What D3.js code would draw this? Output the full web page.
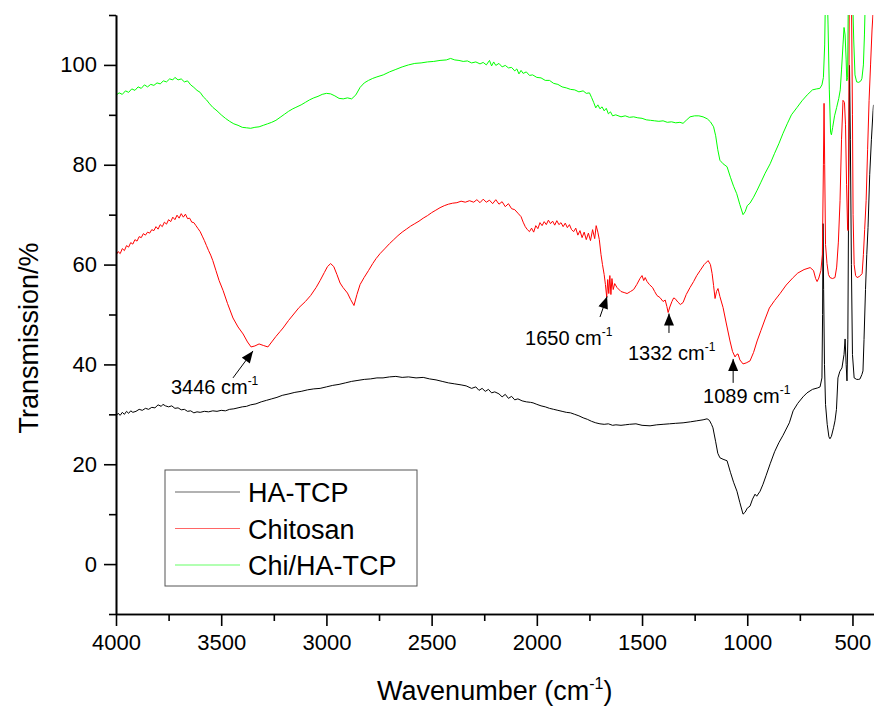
<!DOCTYPE html>
<html>
<head>
<meta charset="utf-8">
<script src="https://cdn.jsdelivr.net/npm/d3@7"></script>
<style>
  body { margin: 0; background: #fff; }
  text { font-family: "Liberation Sans", Arial, sans-serif; fill: #000; }
</style>
</head>
<body>
<div id="chart"></div>
<script>
// FTIR spectra, wavenumber (cm-1) vs transmission (%)
const seriesNames = ["HA-TCP", "Chitosan", "Chi/HA-TCP"];
const seriesColors = ["#000000", "#ff0000", "#00ff00"];

const haTcp = [
  [4000, 29.7], [3990, 30.2], [3980, 29.8], [3970, 30.4], [3960, 30.0], [3950, 30.6], [3940, 30.2], [3930, 30.7],
  [3920, 30.4], [3905, 30.6], [3890, 31.0], [3875, 30.8], [3860, 31.2], [3845, 31.0], [3830, 31.4], [3815, 31.3],
  [3800, 31.9], [3785, 31.6], [3777, 32.0], [3765, 31.7], [3750, 31.5], [3735, 31.7], [3720, 31.2], [3705, 31.3],
  [3690, 30.9], [3675, 31.0], [3660, 30.6], [3645, 30.7], [3630, 30.3], [3615, 30.5], [3600, 30.4], [3580, 30.6],
  [3560, 30.5], [3540, 30.7], [3520, 30.6], [3500, 30.8], [3480, 30.7], [3460, 31.0], [3440, 31.1], [3420, 31.3],
  [3400, 31.5], [3380, 31.6], [3360, 31.9], [3335, 32.1], [3310, 32.5], [3285, 32.8], [3260, 33.1], [3235, 33.4],
  [3210, 33.8], [3178, 34.1], [3150, 34.4], [3120, 34.6], [3090, 34.9], [3060, 35.1], [3030, 35.2], [3000, 35.5],
  [2970, 35.8], [2940, 36.0], [2910, 36.3], [2880, 36.6], [2850, 36.8], [2820, 37.0], [2790, 37.1], [2760, 37.3],
  [2731, 37.3], [2700, 37.5], [2670, 37.6], [2640, 37.4], [2610, 37.5], [2574, 37.3], [2540, 37.4], [2510, 37.1],
  [2479, 36.9], [2450, 36.6], [2420, 36.3], [2390, 36.1], [2360, 35.9], [2336, 35.7], [2310, 35.2], [2290, 35.5],
  [2275, 34.8], [2260, 35.2], [2245, 34.6], [2230, 35.0], [2215, 34.3], [2200, 34.5], [2180, 34.1], [2165, 33.5],
  [2150, 34.0], [2135, 33.2], [2120, 33.6], [2105, 32.9], [2090, 33.1], [2070, 32.7], [2050, 32.5], [2030, 32.4],
  [2018, 32.3], [2000, 32.0], [1980, 31.7], [1960, 31.5], [1940, 31.2], [1920, 31.0], [1900, 30.8], [1880, 30.6],
  [1860, 30.4], [1840, 30.3], [1820, 30.0], [1800, 29.7], [1780, 29.3], [1760, 29.0], [1740, 28.6], [1720, 28.3],
  [1700, 28.1], [1680, 28.0], [1660, 28.1], [1640, 27.8], [1624, 27.9], [1600, 27.8], [1580, 27.9], [1560, 28.0],
  [1529, 28.1], [1500, 27.8], [1462, 27.7], [1430, 27.9], [1400, 28.0], [1370, 28.1], [1340, 28.2], [1305, 28.3],
  [1270, 28.5], [1240, 28.7], [1210, 28.9], [1191, 29.1], [1180, 28.8], [1170, 28.0], [1163, 27.3], [1150, 24.5],
  [1140, 22.2], [1130, 21.3], [1115, 21.0], [1096, 20.7], [1080, 18.4], [1065, 16.4], [1049, 14.6], [1035, 12.3],
  [1020, 10.0], [1010, 10.4], [1000, 11.2], [987, 11.6], [975, 13.0], [963, 14.0], [955, 13.6], [939, 14.6],
  [925, 16.0], [910, 17.8], [891, 20.1], [870, 22.5], [850, 24.3], [830, 25.8], [800, 28.3], [782, 30.7],
  [760, 32.2], [735, 33.5], [716, 34.3], [690, 35.0], [665, 35.3], [654, 35.5], [645, 37.3], [642, 50],
  [640, 68.2], [637, 55], [633, 40], [628, 32], [620, 28], [612, 25.5], [607, 25.1], [600, 25.6],
  [590, 27.3], [583, 28.7], [576, 31], [569, 37.3], [560, 38.6], [550, 39.3], [540, 42], [535, 45.1],
  [530, 40], [526, 36.7], [522, 45], [518, 75], [514, 99.9], [510, 85], [505, 60], [500, 42],
  [492, 37.3], [480, 37.0], [470, 37.0], [464, 37.1], [455, 38.0], [450, 38.7], [445, 45], [438, 55],
  [432, 62], [426, 67.4], [418, 78], [410, 85], [402, 90.9], [400, 92]
];

const chitosan = [
  [4000, 40], [3998, 62.0], [3990, 62.6], [3980, 62.2], [3970, 63.2], [3960, 62.8], [3950, 63.8], [3940, 63.5],
  [3930, 64.4], [3920, 64.1], [3910, 65.0], [3900, 64.7], [3890, 65.6], [3880, 65.4], [3870, 66.2], [3860, 65.9],
  [3850, 66.5], [3840, 66.3], [3830, 67.0], [3820, 66.8], [3810, 67.6], [3800, 67.1], [3790, 68.0], [3780, 67.6],
  [3770, 68.5], [3760, 68.1], [3750, 69.0], [3740, 68.6], [3730, 69.5], [3720, 69.0], [3710, 69.9], [3700, 69.3],
  [3690, 70.2], [3680, 69.5], [3670, 70.1], [3660, 69.2], [3650, 69.3], [3640, 68.5], [3630, 68.4], [3620, 67.8],
  [3610, 67.2], [3600, 66.6], [3590, 65.7], [3580, 64.8], [3570, 63.8], [3560, 62.8], [3550, 61.9], [3540, 60.8],
  [3525, 58.8], [3510, 56.8], [3491, 54.8], [3470, 52.2], [3444, 49.3], [3420, 47.5], [3396, 46.1], [3375, 44.5],
  [3358, 43.5], [3340, 43.7], [3320, 44.1], [3300, 43.8], [3278, 43.5], [3260, 44.5], [3240, 45.6], [3220, 46.6],
  [3206, 47.3], [3180, 48.8], [3155, 50.1], [3130, 51.4], [3100, 52.6], [3075, 53.8], [3049, 55.4], [3030, 56.8],
  [3010, 58.4], [2995, 59.6], [2980, 60.2], [2965, 59.6], [2950, 58.0], [2935, 56.3], [2921, 55.4], [2900, 54.3],
  [2885, 53.0], [2869, 51.8], [2855, 54.0], [2840, 56.0], [2821, 57.4], [2800, 58.8], [2780, 60.2], [2764, 61.2],
  [2745, 62.2], [2720, 63.3], [2700, 64.2], [2680, 65.0], [2660, 65.8], [2640, 66.5], [2620, 67.1], [2600, 67.7],
  [2580, 68.2], [2560, 68.7], [2540, 69.3], [2520, 69.8], [2500, 70.4], [2480, 70.9], [2460, 71.4], [2440, 71.8],
  [2420, 72.1], [2400, 72.3], [2380, 72.4], [2360, 72.7], [2340, 72.5], [2320, 72.8], [2300, 72.5], [2285, 73.0],
  [2270, 72.4], [2255, 73.1], [2240, 72.5], [2225, 72.9], [2210, 72.2], [2195, 73.0], [2180, 72.1], [2165, 72.6],
  [2150, 71.6], [2135, 72.2], [2120, 71.2], [2105, 71.0], [2090, 70.3], [2075, 69.6], [2065, 68.5], [2055, 67.6],
  [2045, 67.0], [2035, 66.6], [2025, 67.3], [2015, 66.5], [2005, 67.8], [1995, 67.2], [1985, 68.4], [1975, 67.8],
  [1965, 68.6], [1955, 68.0], [1945, 68.9], [1935, 68.2], [1925, 68.7], [1915, 67.9], [1905, 68.8], [1895, 68.0],
  [1885, 68.4], [1875, 67.6], [1865, 68.3], [1855, 67.4], [1845, 68.0], [1835, 67.0], [1825, 66.6], [1815, 67.3],
  [1805, 65.9], [1795, 66.8], [1785, 65.4], [1775, 66.5], [1765, 65.0], [1755, 66.3], [1745, 64.8], [1735, 67.0],
  [1725, 65.2], [1718, 67.8], [1710, 66.5], [1703, 65.0], [1695, 62.0], [1688, 60.0], [1680, 58.0], [1674, 56.0],
  [1668, 53.5], [1663, 57.0], [1658, 54.2], [1653, 57.8], [1648, 54.0], [1643, 57.2], [1637, 55.0], [1630, 56.2],
  [1619, 55.4], [1600, 54.6], [1585, 54.4], [1571, 54.2], [1555, 54.6], [1540, 55.0], [1525, 56.0], [1510, 57.2],
  [1500, 57.8], [1492, 56.8], [1485, 57.4], [1476, 56.6], [1465, 56.0], [1450, 55.4], [1440, 54.6], [1429, 53.8],
  [1415, 53.4], [1400, 52.6], [1390, 52.9], [1382, 51.6], [1376, 50.4], [1368, 51.5], [1358, 52.6], [1350, 53.3],
  [1343, 53.2], [1330, 52.5], [1318, 52.0], [1305, 52.4], [1290, 54.0], [1272, 55.4], [1255, 56.6], [1240, 57.8],
  [1224, 58.8], [1205, 60.0], [1186, 60.8], [1175, 60.0], [1167, 58.2], [1160, 55.8], [1153, 53.2], [1146, 54.6],
  [1139, 55.2], [1130, 53.6], [1115, 51.4], [1100, 48.3], [1082, 44.7], [1070, 42.6], [1058, 41.5], [1050, 42.0],
  [1044, 42.1], [1035, 40.9], [1020, 40.1], [1005, 40.3], [987, 40.7], [970, 42.4], [953, 44.7], [935, 46.8],
  [915, 49.1], [895, 51.3], [870, 52.8], [844, 54.2], [815, 55.9], [782, 57.4], [760, 58.3], [730, 59.0],
  [701, 59.4], [685, 58.8], [675, 57.2], [668, 56.6], [660, 57.3], [650, 58.8], [643, 62], [638, 80],
  [635, 92.3], [632, 80], [628, 64], [621, 60.2], [614, 58.0], [607, 57.4], [595, 57.2], [583, 57.4],
  [575, 59.5], [567, 64.5], [559, 72.8], [552, 85], [545, 92.9], [538, 92.5], [533, 88], [528, 76],
  [523, 67], [521, 66.8], [518, 80], [515, 115], [505, 115], [500, 90], [497, 70], [492, 60],
  [485, 57.8], [478, 57.4], [468, 57.6], [460, 57.9], [454, 58.2], [448, 62], [442, 67], [435, 72.8],
  [428, 83], [421, 92.9], [414, 100], [407, 107], [400, 112]
];

const chiHaTcp = [
  [4000, 60], [3998, 94.0], [3985, 94.4], [3970, 94.1], [3955, 94.8], [3940, 94.5], [3925, 95.2], [3910, 94.9],
  [3895, 95.6], [3880, 95.3], [3865, 96.0], [3850, 95.6], [3835, 96.1], [3820, 95.9], [3805, 96.4], [3790, 96.2],
  [3775, 96.8], [3760, 96.6], [3745, 97.2], [3730, 97.0], [3720, 97.5], [3705, 97.0], [3690, 97.2], [3675, 96.6],
  [3660, 96.8], [3645, 96.0], [3630, 95.5], [3615, 94.9], [3600, 94.5], [3585, 93.6], [3570, 93.0], [3555, 92.2],
  [3540, 91.5], [3520, 90.8], [3500, 90.0], [3480, 89.3], [3460, 88.7], [3440, 88.2], [3420, 87.9], [3400, 87.5],
  [3380, 87.4], [3360, 87.3], [3340, 87.5], [3320, 87.6], [3300, 87.9], [3280, 88.2], [3260, 88.5], [3240, 88.9],
  [3220, 89.5], [3200, 90.1], [3180, 90.7], [3160, 91.2], [3145, 91.5], [3120, 92.0], [3100, 92.5], [3080, 93.0],
  [3060, 93.4], [3040, 93.7], [3020, 94.1], [3000, 94.3], [2980, 94.2], [2960, 93.8], [2940, 93.3], [2920, 93.2],
  [2900, 93.4], [2880, 93.2], [2860, 94.0], [2840, 95.5], [2820, 96.4], [2800, 96.9], [2780, 97.3], [2760, 97.6],
  [2730, 98.0], [2700, 98.6], [2670, 99.1], [2640, 99.6], [2610, 100.0], [2580, 100.3], [2550, 100.4], [2520, 100.6],
  [2490, 100.7], [2460, 100.9], [2430, 101.0], [2410, 101.3], [2390, 101.0], [2370, 100.9], [2350, 100.7], [2330, 100.8],
  [2310, 100.4], [2290, 100.6], [2270, 100.2], [2255, 100.5], [2240, 100.0], [2225, 100.9], [2215, 99.8], [2205, 100.6],
  [2195, 99.9], [2180, 100.3], [2165, 99.6], [2150, 99.9], [2135, 99.4], [2120, 99.5], [2105, 98.8], [2095, 99.2],
  [2085, 98.2], [2075, 98.9], [2065, 98.3], [2050, 98.6], [2035, 97.9], [2020, 98.0], [2000, 97.5], [1980, 97.4],
  [1960, 96.9], [1940, 96.9], [1920, 96.3], [1900, 96.1], [1880, 95.6], [1860, 95.4], [1840, 95.1], [1820, 95.0],
  [1800, 94.6], [1780, 94.8], [1765, 94.3], [1750, 94.4], [1740, 93.5], [1730, 92.5], [1720, 91.4], [1710, 92.0],
  [1700, 91.2], [1690, 91.6], [1680, 90.8], [1670, 91.3], [1660, 90.2], [1650, 90.6], [1640, 89.8], [1625, 90.0],
  [1600, 89.6], [1580, 89.8], [1560, 89.5], [1540, 89.6], [1520, 89.4], [1500, 89.3], [1480, 89.0], [1460, 88.9],
  [1440, 88.8], [1420, 88.7], [1400, 88.8], [1380, 88.5], [1360, 88.6], [1340, 88.4], [1320, 88.5], [1305, 88.3],
  [1290, 88.9], [1272, 89.6], [1250, 89.8], [1230, 89.8], [1210, 89.6], [1190, 89.2], [1175, 88.6], [1160, 87.6],
  [1150, 85.8], [1140, 83.0], [1130, 80.9], [1115, 80.2], [1096, 79.6], [1080, 77.5], [1065, 75.7], [1050, 74.2],
  [1035, 72.0], [1020, 70.0], [1010, 70.6], [1000, 71.8], [987, 72.3], [970, 73.5], [953, 74.9], [935, 76.5],
  [915, 78.3], [891, 80.2], [870, 82.3], [850, 84.2], [830, 86.3], [810, 88.2], [790, 90.0], [763, 91.5],
  [740, 92.8], [715, 94.0], [690, 95.0], [670, 95.2], [655, 95.3], [645, 96.0], [638, 97.5], [632, 104],
  [628, 115], [620, 115], [616, 108], [610, 95], [604, 86.5], [600, 86.0], [594, 87.5], [585, 89.8],
  [575, 91.5], [565, 93.3], [558, 95.0], [552, 99.0], [545, 104], [540, 107.5], [535, 106], [530, 101],
  [527, 96.8], [523, 97.5], [520, 112], [516, 115], [500, 115], [494, 105], [488, 98], [480, 96.6],
  [470, 96.5], [460, 96.8], [455, 97.3], [448, 100], [443, 106], [438, 115], [400, 115]
];

const xTicks = [4000, 3500, 3000, 2500, 2000, 1500, 1000, 500];
const xMinorTicks = [3750, 3250, 2750, 2250, 1750, 1250, 750];
const yTicks = [0, 20, 40, 60, 80, 100];
const yMinorTicks = [-10, 10, 30, 50, 70, 90, 110];

// peak annotations: label, arrow tip, arrow tail, text anchor (wavenumber, %)
const peakLabels = ["3446", "1650", "1332", "1089"];
const peakTips = [[3349, 42.7], [1666, 53.6], [1372, 50.2], [1067, 41.1]];
const peakTails = [[3444, 37.3], [1700, 49.5], [1372, 46.3], [1067, 36.3]];
const peakTexts = [[3739, 34.1], [2056, 43.9], [1567, 40.9], [1210, 32.3]];

const width = 874, height = 711;
const margin = { top: 15, right: 0.5, bottom: 97, left: 116 };

const svg = d3.select("#chart")
  .append("svg")
  .attr("width", width)
  .attr("height", height);

const x = d3.scaleLinear()
  .domain([4000, 400])
  .range([margin.left, width - margin.right]);
const y = d3.scaleLinear()
  .domain([-10, 110])
  .range([height - margin.bottom, margin.top]);

svg.append("defs").append("clipPath")
  .attr("id", "plot-clip")
  .append("rect")
  .attr("x", margin.left)
  .attr("y", margin.top)
  .attr("width", width - margin.right - margin.left)
  .attr("height", height - margin.bottom - margin.top);

svg.select("defs").append("marker")
  .attr("id", "arrow")
  .attr("viewBox", "0 0 12 10")
  .attr("refX", 12)
  .attr("refY", 5)
  .attr("markerUnits", "userSpaceOnUse")
  .attr("markerWidth", 13)
  .attr("markerHeight", 10)
  .attr("orient", "auto")
  .append("path")
  .attr("d", "M0,0 L12,5 L0,10 Z")
  .attr("fill", "#000");

// spectra
const line = d3.line()
  .x(d => x(d[0]))
  .y(d => y(d[1]));

const allSeries = [haTcp, chitosan, chiHaTcp];
svg.append("g")
  .attr("clip-path", "url(#plot-clip)")
  .selectAll("path")
  .data(allSeries)
  .join("path")
  .attr("d", line)
  .attr("fill", "none")
  .attr("stroke", (d, i) => seriesColors[i])
  .attr("stroke-width", 1)
  .attr("stroke-linejoin", "round");

// axes
const xAxis = svg.append("g")
  .attr("transform", `translate(0,${height - margin.bottom})`)
  .call(d3.axisBottom(x).tickValues(xTicks).tickFormat(d3.format("d"))
    .tickSize(12).tickPadding(8).tickSizeOuter(0));
svg.append("g")
  .attr("transform", `translate(0,${height - margin.bottom})`)
  .call(d3.axisBottom(x).tickValues(xMinorTicks).tickSize(7).tickFormat("").tickSizeOuter(0));

const yAxis = svg.append("g")
  .attr("transform", `translate(${margin.left},0)`)
  .call(d3.axisLeft(y).tickValues(yTicks).tickFormat(d3.format("d"))
    .tickSize(12).tickPadding(7).tickSizeOuter(0));
svg.append("g")
  .attr("transform", `translate(${margin.left},0)`)
  .call(d3.axisLeft(y).tickValues(yMinorTicks).tickSize(7).tickFormat("").tickSizeOuter(0));

svg.selectAll(".domain, .tick line")
  .attr("stroke", "#000")
  .attr("stroke-width", 1.6);
xAxis.selectAll("text").style("font-size", "22px").attr("fill", "#000");
yAxis.selectAll("text").style("font-size", "22px").attr("fill", "#000");

// axis titles
svg.append("text")
  .attr("transform", `translate(38,338) rotate(-90)`)
  .attr("text-anchor", "middle")
  .style("font-size", "27px")
  .text("Transmission/%");

const xTitle = svg.append("text")
  .attr("x", (margin.left + width - margin.right) / 2)
  .attr("y", 700)
  .attr("text-anchor", "middle")
  .style("font-size", "27px");
xTitle.append("tspan").text("Wavenumber (cm");
xTitle.append("tspan").attr("dy", -11).style("font-size", "16px").text("-1");
xTitle.append("tspan").attr("dy", 11).text(")");

// peak annotations
const notes = svg.append("g");
peakLabels.forEach(function (lab, i) {
  notes.append("line")
    .attr("x1", x(peakTails[i][0]))
    .attr("y1", y(peakTails[i][1]))
    .attr("x2", x(peakTips[i][0]))
    .attr("y2", y(peakTips[i][1]))
    .attr("stroke", "#000")
    .attr("stroke-width", 1)
    .attr("marker-end", "url(#arrow)");
  const t = notes.append("text")
    .attr("x", x(peakTexts[i][0]))
    .attr("y", y(peakTexts[i][1]))
    .style("font-size", "20px");
  t.append("tspan").text(lab + " cm");
  t.append("tspan").attr("dy", -9).style("font-size", "12px").text("-1");
});

// legend
const legend = svg.append("g").attr("transform", "translate(165,470)");
legend.append("rect")
  .attr("width", 252)
  .attr("height", 116)
  .attr("fill", "#fff")
  .attr("stroke", "#555")
  .attr("stroke-width", 1);
seriesNames.forEach(function (name, i) {
  const ly = 22 + i * 36.5;
  legend.append("line")
    .attr("x1", 10).attr("x2", 75)
    .attr("y1", ly).attr("y2", ly)
    .attr("stroke", seriesColors[i])
    .attr("stroke-opacity", 0.6)
    .attr("stroke-width", 1.2);
  legend.append("text")
    .attr("x", 83)
    .attr("y", ly + 10)
    .style("font-size", "27px")
    .text(name);
});
</script>
</body>
</html>
